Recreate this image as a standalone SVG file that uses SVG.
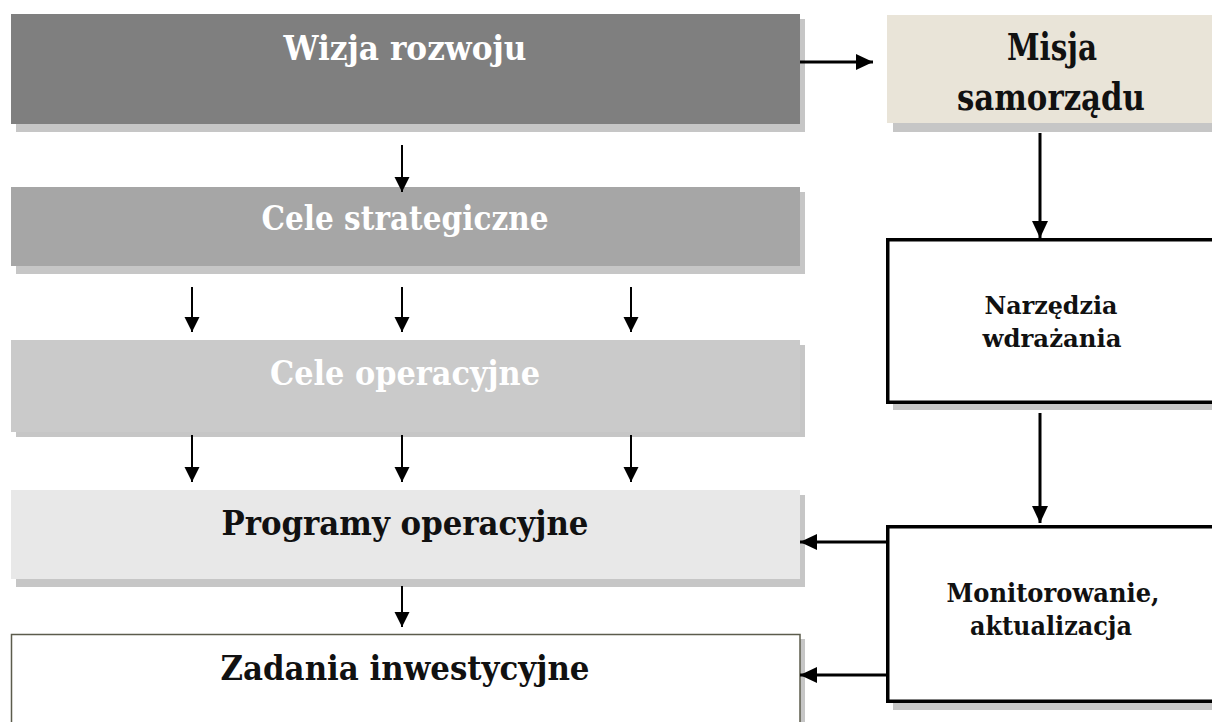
<svg xmlns="http://www.w3.org/2000/svg" width="1212" height="722" viewBox="0 0 1212 722">
  <style>
    .lbl { font-family: "DejaVu Serif", "Liberation Serif", serif; font-weight: bold; text-anchor: middle; }
    .white { fill: #ffffff; }
    .dark { fill: #111111; }
    .shadow { fill: #c6c6c6; }
    .conn { stroke: #000000; fill: none; }
    .thin { stroke-width: 2; marker-end: url(#headThin); }
    .thick { stroke-width: 3; marker-end: url(#headThick); }
    .framed { fill: #ffffff; stroke: #000000; stroke-width: 3.5; }
  </style>
  <defs>
    <marker id="headThin" markerUnits="userSpaceOnUse" markerWidth="15" markerHeight="16" refX="15" refY="7.5" orient="auto" viewBox="0 0 15 15">
      <path d="M0,0 L15,7.5 L0,15 z" fill="#000000"/>
    </marker>
    <marker id="headThick" markerUnits="userSpaceOnUse" markerWidth="17" markerHeight="17" refX="17" refY="8" orient="auto" viewBox="0 0 17 16">
      <path d="M0,0 L17,8 L0,16 z" fill="#000000"/>
    </marker>
  </defs>
  <rect width="1212" height="722" fill="#ffffff"/>

  <g id="wizja">
    <rect class="shadow" x="16" y="19" width="789" height="113" fill="#cccccc"/>
    <rect x="11" y="14" width="789" height="110" fill="#7f7f7f"/>
    <text class="lbl white" x="405" y="60" font-size="34" textLength="243" lengthAdjust="spacingAndGlyphs">Wizja rozwoju</text>
  </g>

  <g id="cele-strategiczne">
    <rect class="shadow" x="16" y="192" width="789" height="82" fill="#c2c2c2"/>
    <rect x="11" y="187" width="789" height="79" fill="#a6a6a6"/>
    <text class="lbl white" x="405" y="230" font-size="34" textLength="287" lengthAdjust="spacingAndGlyphs">Cele strategiczne</text>
  </g>

  <g id="cele-operacyjne">
    <rect class="shadow" x="16" y="345" width="789" height="92" fill="#c0c0c0"/>
    <rect x="11" y="340" width="789" height="92" fill="#cacaca"/>
    <text class="lbl white" x="405" y="385" font-size="34" textLength="270" lengthAdjust="spacingAndGlyphs">Cele operacyjne</text>
  </g>

  <g id="programy-operacyjne">
    <rect class="shadow" x="16" y="495" width="789" height="92" fill="#cfcfcf"/>
    <rect x="11" y="490" width="789" height="89" fill="#e8e8e8"/>
    <text class="lbl dark" x="405" y="535" font-size="34" textLength="367" lengthAdjust="spacingAndGlyphs">Programy operacyjne</text>
  </g>

  <g id="zadania-inwestycyjne">
    <rect class="shadow" x="16" y="639" width="789" height="90" fill="#c4c4c4"/>
    <rect x="11.5" y="634.5" width="788.5" height="95" fill="#ffffff" stroke="#5c5c4c" stroke-width="1.5"/>
    <text class="lbl dark" x="405" y="680" font-size="34" textLength="369" lengthAdjust="spacingAndGlyphs">Zadania inwestycyjne</text>
  </g>

  <g id="misja">
    <rect class="shadow" x="893" y="20" width="330" height="112" fill="#c9c6c0"/>
    <rect x="887" y="15" width="330" height="108" fill="#e9e4d8"/>
    <text class="lbl dark" x="1052" y="60" font-size="38" textLength="90" lengthAdjust="spacingAndGlyphs">Misja</text>
    <text class="lbl dark" x="1051" y="110" font-size="38" textLength="188" lengthAdjust="spacingAndGlyphs">samorządu</text>
  </g>

  <g id="narzedzia">
    <rect class="shadow" x="893" y="245" width="330" height="165" fill="#c8c8c8"/>
    <rect class="framed" x="887.75" y="239.75" width="340" height="162.5"/>
    <text class="lbl dark" x="1051" y="314" font-size="25" textLength="133" lengthAdjust="spacingAndGlyphs">Narzędzia</text>
    <text class="lbl dark" x="1052" y="347" font-size="25" textLength="139" lengthAdjust="spacingAndGlyphs">wdrażania</text>
  </g>

  <g id="monitorowanie">
    <rect class="shadow" x="893" y="531" width="330" height="179" fill="#c8c8c8"/>
    <rect class="framed" x="887.75" y="526.75" width="340" height="174.5"/>
    <text class="lbl dark" x="1053" y="602" font-size="26" textLength="213" lengthAdjust="spacingAndGlyphs">Monitorowanie,</text>
    <text class="lbl dark" x="1051" y="635" font-size="26" textLength="162" lengthAdjust="spacingAndGlyphs">aktualizacja</text>
  </g>

  <g id="connectors">
    <line class="conn thick" x1="800" y1="62" x2="873" y2="62"/>
    <line class="conn thin" x1="402" y1="145" x2="402" y2="192"/>
    <line class="conn thin" x1="192" y1="287" x2="192" y2="332"/>
    <line class="conn thin" x1="402" y1="287" x2="402" y2="332"/>
    <line class="conn thin" x1="631" y1="287" x2="631" y2="332"/>
    <line class="conn thin" x1="192" y1="435" x2="192" y2="482"/>
    <line class="conn thin" x1="402" y1="435" x2="402" y2="482"/>
    <line class="conn thin" x1="631" y1="435" x2="631" y2="482"/>
    <line class="conn thin" x1="402" y1="586" x2="402" y2="627"/>
    <line class="conn thick" x1="1040" y1="133" x2="1040" y2="238"/>
    <line class="conn thick" x1="1040" y1="413" x2="1040" y2="523"/>
    <line class="conn thick" x1="886" y1="542" x2="800" y2="542"/>
    <line class="conn thick" x1="886" y1="675" x2="800" y2="675"/>
  </g>
</svg>
